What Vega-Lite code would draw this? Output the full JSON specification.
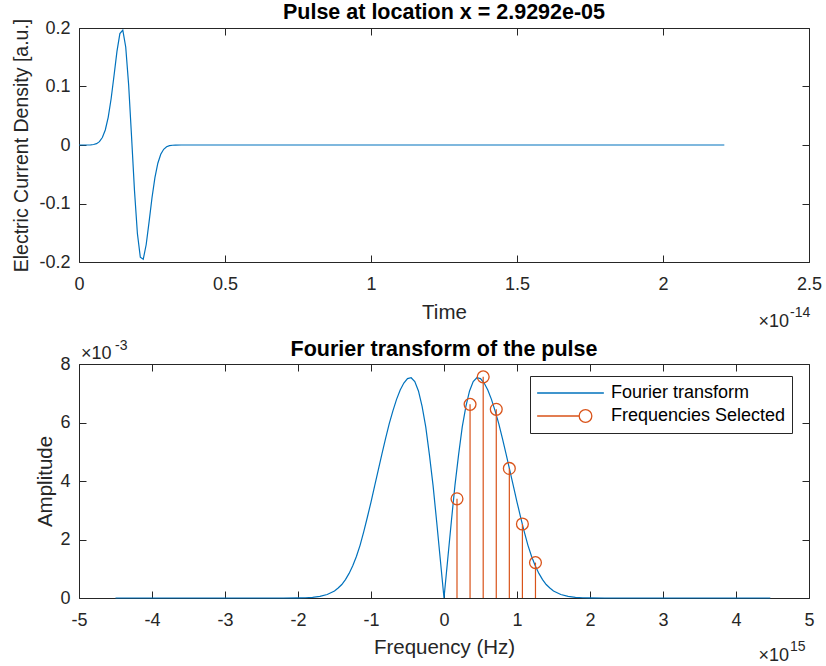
{
  "$schema": "https://vega.github.io/schema/vega-lite/v6.json",
  "background": "white",
  "padding": {"left": 11, "top": 1, "right": 5, "bottom": 0},
  "spacing": 8,
  "resolve": {"scale": {"color": "independent"}, "legend": {"color": "independent"}},
  "datasets": {
    "pulse": [
      {"t": 0, "j": 0}, {"t": 0.04, "j": 0.0003}, {"t": 0.05, "j": 0.0009}, {"t": 0.06, "j": 0.0023},
      {"t": 0.07, "j": 0.0057}, {"t": 0.08, "j": 0.0127}, {"t": 0.09, "j": 0.0257}, {"t": 0.1, "j": 0.0474},
      {"t": 0.11, "j": 0.079}, {"t": 0.12, "j": 0.1188}, {"t": 0.13, "j": 0.1599}, {"t": 0.14, "j": 0.1904},
      {"t": 0.15, "j": 0.1964}, {"t": 0.16, "j": 0.1675}, {"t": 0.17, "j": 0.1029}, {"t": 0.18, "j": 0.0142},
      {"t": 0.19, "j": -0.0779}, {"t": 0.2, "j": -0.1512}, {"t": 0.21, "j": -0.1918}, {"t": 0.22, "j": -0.1954},
      {"t": 0.23, "j": -0.1705}, {"t": 0.24, "j": -0.1313}, {"t": 0.25, "j": -0.0902}, {"t": 0.26, "j": -0.0558},
      {"t": 0.27, "j": -0.0312}, {"t": 0.28, "j": -0.0158}, {"t": 0.29, "j": -0.0073}, {"t": 0.3, "j": -0.0031},
      {"t": 0.31, "j": -0.0012}, {"t": 0.32, "j": -0.0004}, {"t": 0.33, "j": -0.0001}, {"t": 0.35, "j": 0},
      {"t": 2.21, "j": 0}
    ],
    "fft": [
      {"f": -4.5, "a": 0, "series": "Fourier transform"}, {"f": -2.4, "a": 0, "series": "Fourier transform"},
      {"f": -2.2, "a": 0.0005, "series": "Fourier transform"}, {"f": -2.0, "a": 0.003, "series": "Fourier transform"},
      {"f": -1.9, "a": 0.008, "series": "Fourier transform"}, {"f": -1.8, "a": 0.022, "series": "Fourier transform"},
      {"f": -1.7, "a": 0.055, "series": "Fourier transform"}, {"f": -1.6, "a": 0.12, "series": "Fourier transform"},
      {"f": -1.5, "a": 0.24, "series": "Fourier transform"}, {"f": -1.45, "a": 0.34, "series": "Fourier transform"},
      {"f": -1.4, "a": 0.46, "series": "Fourier transform"}, {"f": -1.35, "a": 0.63, "series": "Fourier transform"},
      {"f": -1.3, "a": 0.84, "series": "Fourier transform"}, {"f": -1.25, "a": 1.1, "series": "Fourier transform"},
      {"f": -1.2, "a": 1.42, "series": "Fourier transform"}, {"f": -1.15, "a": 1.8, "series": "Fourier transform"},
      {"f": -1.1, "a": 2.26, "series": "Fourier transform"}, {"f": -1.05, "a": 2.76, "series": "Fourier transform"},
      {"f": -1.0, "a": 3.28, "series": "Fourier transform"}, {"f": -0.95, "a": 3.83, "series": "Fourier transform"},
      {"f": -0.9, "a": 4.38, "series": "Fourier transform"}, {"f": -0.85, "a": 4.93, "series": "Fourier transform"},
      {"f": -0.8, "a": 5.46, "series": "Fourier transform"}, {"f": -0.75, "a": 5.96, "series": "Fourier transform"},
      {"f": -0.7, "a": 6.4, "series": "Fourier transform"}, {"f": -0.65, "a": 6.79, "series": "Fourier transform"},
      {"f": -0.6, "a": 7.11, "series": "Fourier transform"}, {"f": -0.55, "a": 7.35, "series": "Fourier transform"},
      {"f": -0.5, "a": 7.5, "series": "Fourier transform"}, {"f": -0.45, "a": 7.53, "series": "Fourier transform"},
      {"f": -0.4, "a": 7.4, "series": "Fourier transform"}, {"f": -0.35, "a": 7.08, "series": "Fourier transform"},
      {"f": -0.3, "a": 6.55, "series": "Fourier transform"}, {"f": -0.25, "a": 5.85, "series": "Fourier transform"},
      {"f": -0.2, "a": 4.9, "series": "Fourier transform"}, {"f": -0.15, "a": 3.85, "series": "Fourier transform"},
      {"f": -0.1, "a": 2.6, "series": "Fourier transform"}, {"f": -0.05, "a": 1.3, "series": "Fourier transform"},
      {"f": 0, "a": 0, "series": "Fourier transform"},
      {"f": 0.05, "a": 1.3, "series": "Fourier transform"}, {"f": 0.1, "a": 2.6, "series": "Fourier transform"},
      {"f": 0.15, "a": 3.85, "series": "Fourier transform"}, {"f": 0.2, "a": 4.9, "series": "Fourier transform"},
      {"f": 0.25, "a": 5.85, "series": "Fourier transform"}, {"f": 0.3, "a": 6.55, "series": "Fourier transform"},
      {"f": 0.35, "a": 7.08, "series": "Fourier transform"}, {"f": 0.4, "a": 7.4, "series": "Fourier transform"},
      {"f": 0.45, "a": 7.53, "series": "Fourier transform"}, {"f": 0.5, "a": 7.5, "series": "Fourier transform"},
      {"f": 0.55, "a": 7.35, "series": "Fourier transform"}, {"f": 0.6, "a": 7.11, "series": "Fourier transform"},
      {"f": 0.65, "a": 6.79, "series": "Fourier transform"}, {"f": 0.7, "a": 6.4, "series": "Fourier transform"},
      {"f": 0.75, "a": 5.96, "series": "Fourier transform"}, {"f": 0.8, "a": 5.46, "series": "Fourier transform"},
      {"f": 0.85, "a": 4.93, "series": "Fourier transform"}, {"f": 0.9, "a": 4.38, "series": "Fourier transform"},
      {"f": 0.95, "a": 3.83, "series": "Fourier transform"}, {"f": 1.0, "a": 3.28, "series": "Fourier transform"},
      {"f": 1.05, "a": 2.76, "series": "Fourier transform"}, {"f": 1.1, "a": 2.26, "series": "Fourier transform"},
      {"f": 1.15, "a": 1.8, "series": "Fourier transform"}, {"f": 1.2, "a": 1.42, "series": "Fourier transform"},
      {"f": 1.25, "a": 1.1, "series": "Fourier transform"}, {"f": 1.3, "a": 0.84, "series": "Fourier transform"},
      {"f": 1.35, "a": 0.63, "series": "Fourier transform"}, {"f": 1.4, "a": 0.46, "series": "Fourier transform"},
      {"f": 1.45, "a": 0.34, "series": "Fourier transform"}, {"f": 1.5, "a": 0.24, "series": "Fourier transform"},
      {"f": 1.6, "a": 0.12, "series": "Fourier transform"}, {"f": 1.7, "a": 0.055, "series": "Fourier transform"},
      {"f": 1.8, "a": 0.022, "series": "Fourier transform"}, {"f": 1.9, "a": 0.008, "series": "Fourier transform"},
      {"f": 2.0, "a": 0.003, "series": "Fourier transform"}, {"f": 2.2, "a": 0.0005, "series": "Fourier transform"},
      {"f": 2.4, "a": 0, "series": "Fourier transform"}, {"f": 4.47, "a": 0, "series": "Fourier transform"}
    ],
    "stems": [
      {"f": 0.178, "a": 3.39, "series": "Frequencies Selected"},
      {"f": 0.357, "a": 6.62, "series": "Frequencies Selected"},
      {"f": 0.537, "a": 7.56, "series": "Frequencies Selected"},
      {"f": 0.716, "a": 6.45, "series": "Frequencies Selected"},
      {"f": 0.895, "a": 4.43, "series": "Frequencies Selected"},
      {"f": 1.074, "a": 2.53, "series": "Frequencies Selected"},
      {"f": 1.253, "a": 1.21, "series": "Frequencies Selected"}
    ]
  },
  "vconcat": [
    {
      "width": 730,
      "height": 234,
      "title": {"text": "Pulse at location x = 2.9292e-05", "fontSize": 21.5, "fontWeight": "bold", "color": "#000000", "offset": -5},
      "layer": [
        {
          "data": {"name": "pulse"},
          "mark": {"type": "line", "color": "#0072BD", "strokeWidth": 1.2},
          "encoding": {
            "x": {"field": "t", "type": "quantitative", "scale": {"domain": [0, 2.5], "nice": false},
                  "axis": {"orient": "bottom", "values": [0, 0.5, 1, 1.5, 2, 2.5], "labelExpr": "format(datum.value, '')", "title": "Time", "labelPadding": 20, "titlePadding": 9}},
            "y": {"field": "j", "type": "quantitative", "scale": {"domain": [-0.2, 0.2], "nice": false},
                  "axis": {"orient": "left", "values": [-0.2, -0.1, 0, 0.1, 0.2], "labelExpr": "datum.value < 0 ? '-' + format(-datum.value, '') : format(datum.value, '')", "title": "Electric Current Density [a.u.]", "titlePadding": 7, "titleFontSize": 19.5}}
          }
        },
        {
          "data": {"name": "pulse"},
          "mark": {"type": "line", "opacity": 0},
          "encoding": {
            "x": {"field": "t", "type": "quantitative", "axis": {"orient": "top", "values": [0, 0.5, 1, 1.5, 2, 2.5], "labels": false, "title": null}},
            "y": {"field": "j", "type": "quantitative", "axis": {"orient": "right", "values": [-0.2, -0.1, 0, 0.1, 0.2], "labels": false, "title": null}}
          }
        },
        {
          "data": {"values": [{}]},
          "mark": {"type": "text", "text": "×10", "align": "right", "baseline": "alphabetic", "dx": -20, "dy": 65, "fontSize": 18, "color": "#262626"},
          "encoding": {"x": {"datum": 2.5, "type": "quantitative", "axis": null}, "y": {"datum": -0.2, "type": "quantitative", "axis": null}}
        },
        {
          "data": {"values": [{}]},
          "mark": {"type": "text", "text": "-14", "align": "left", "baseline": "alphabetic", "dx": -19, "dy": 55, "fontSize": 14, "color": "#262626"},
          "encoding": {"x": {"datum": 2.5, "type": "quantitative", "axis": null}, "y": {"datum": -0.2, "type": "quantitative", "axis": null}}
        }
      ],
      "resolve": {"axis": {"x": "independent", "y": "independent"}}
    },
    {
      "width": 730,
      "height": 234,
      "layer": [
        {
          "data": {"name": "fft"},
          "mark": {"type": "line", "strokeWidth": 1.2},
          "encoding": {
            "x": {"field": "f", "type": "quantitative", "scale": {"domain": [-5, 5], "nice": false},
                  "axis": {"orient": "bottom", "values": [-5, -4, -3, -2, -1, 0, 1, 2, 3, 4, 5], "labelExpr": "datum.value < 0 ? '-' + format(-datum.value, '') : format(datum.value, '')", "title": "Frequency (Hz)", "labelPadding": 20, "titlePadding": 8}},
            "y": {"field": "a", "type": "quantitative", "scale": {"domain": [0, 8], "nice": false},
                  "axis": {"orient": "left", "values": [0, 2, 4, 6, 8], "labelExpr": "format(datum.value, '')", "title": "Amplitude", "titlePadding": 4}},
            "color": {"field": "series", "type": "nominal",
                      "scale": {"domain": ["Fourier transform", "Frequencies Selected"], "range": ["#0072BD", "#D95319"]},
                      "legend": {"title": null, "orient": "none", "legendX": 451, "legendY": 12, "direction": "vertical",
                                 "labelFontSize": 18, "labelColor": "#000000", "labelFont": "Liberation Sans", "labelLimit": 0,
                                 "strokeColor": "#262626", "fillColor": "#ffffff", "padding": 6, "labelOffset": 6,
                                 "symbolSize": 4449, "clipHeight": 22, "rowPadding": 1, "symbolStrokeWidth": 1.3,
                                 "encode": {"symbols": {"update": {
                                   "shape": {"signal": "datum.value === 'Fourier transform' ? 'M-1,0H1' : 'M-1,0H0.26M0.64,0A0.19,0.19 0 1,1 0.26,0A0.19,0.19 0 1,1 0.64,0'"},
                                   "fill": {"value": "transparent"}
                                 }}}}}
          }
        },
        {
          "data": {"name": "stems"},
          "mark": {"type": "rule", "strokeWidth": 1.2},
          "encoding": {
            "x": {"field": "f", "type": "quantitative", "axis": null},
            "y": {"field": "a", "type": "quantitative", "axis": null},
            "y2": {"datum": 0},
            "color": {"field": "series", "type": "nominal"}
          }
        },
        {
          "data": {"name": "stems"},
          "mark": {"type": "point", "shape": "circle", "filled": false, "size": 140, "strokeWidth": 1.3, "opacity": 1},
          "encoding": {
            "x": {"field": "f", "type": "quantitative", "axis": null},
            "y": {"field": "a", "type": "quantitative", "axis": null},
            "color": {"field": "series", "type": "nominal"}
          }
        },
        {
          "data": {"name": "fft"},
          "mark": {"type": "line", "opacity": 0},
          "encoding": {
            "x": {"field": "f", "type": "quantitative", "axis": {"orient": "top", "values": [-5, -4, -3, -2, -1, 0, 1, 2, 3, 4, 5], "labels": false, "title": null}},
            "y": {"field": "a", "type": "quantitative", "axis": {"orient": "right", "values": [0, 2, 4, 6, 8], "labels": false, "title": null}}
          }
        },
        {
          "data": {"values": [{}]},
          "mark": {"type": "text", "text": "Fourier transform of the pulse", "align": "center", "baseline": "alphabetic", "dy": -8, "fontSize": 21.5, "fontWeight": "bold", "color": "#000000"},
          "encoding": {"x": {"datum": 0, "type": "quantitative", "axis": null}, "y": {"datum": 8, "type": "quantitative", "axis": null}}
        },
        {
          "data": {"values": [{}]},
          "mark": {"type": "text", "text": "×10", "align": "right", "baseline": "alphabetic", "dx": -20, "dy": 63, "fontSize": 18, "color": "#262626"},
          "encoding": {"x": {"datum": 5, "type": "quantitative", "axis": null}, "y": {"datum": 0, "type": "quantitative", "axis": null}}
        },
        {
          "data": {"values": [{}]},
          "mark": {"type": "text", "text": "15", "align": "left", "baseline": "alphabetic", "dx": -19, "dy": 53, "fontSize": 14, "color": "#262626"},
          "encoding": {"x": {"datum": 5, "type": "quantitative", "axis": null}, "y": {"datum": 0, "type": "quantitative", "axis": null}}
        },
        {
          "data": {"values": [{}]},
          "mark": {"type": "text", "text": "×10", "align": "left", "baseline": "alphabetic", "dx": 2, "dy": -5, "fontSize": 18, "color": "#262626"},
          "encoding": {"x": {"datum": -5, "type": "quantitative", "axis": null}, "y": {"datum": 8, "type": "quantitative", "axis": null}}
        },
        {
          "data": {"values": [{}]},
          "mark": {"type": "text", "text": "-3", "align": "left", "baseline": "alphabetic", "dx": 36, "dy": -14, "fontSize": 14, "color": "#262626"},
          "encoding": {"x": {"datum": -5, "type": "quantitative", "axis": null}, "y": {"datum": 8, "type": "quantitative", "axis": null}}
        }
      ],
      "resolve": {"axis": {"x": "independent", "y": "independent"}}
    }
  ],
  "config": {
    "font": "Liberation Sans",
    "view": {"stroke": null},
    "axis": {
      "grid": false,
      "labelFlush": false,
      "domainColor": "#262626",
      "domainWidth": 1,
      "tickColor": "#262626",
      "tickWidth": 1,
      "tickSize": -7,
      "labelPadding": 16,
      "labelColor": "#262626",
      "labelFontSize": 18,
      "labelFont": "Liberation Sans",
      "titleColor": "#262626",
      "titleFontSize": 20.5,
      "titleFontWeight": "normal",
      "titleFont": "Liberation Sans",
      "titlePadding": 1
    },
    "title": {"font": "Liberation Sans", "anchor": "middle"}
  }
}
